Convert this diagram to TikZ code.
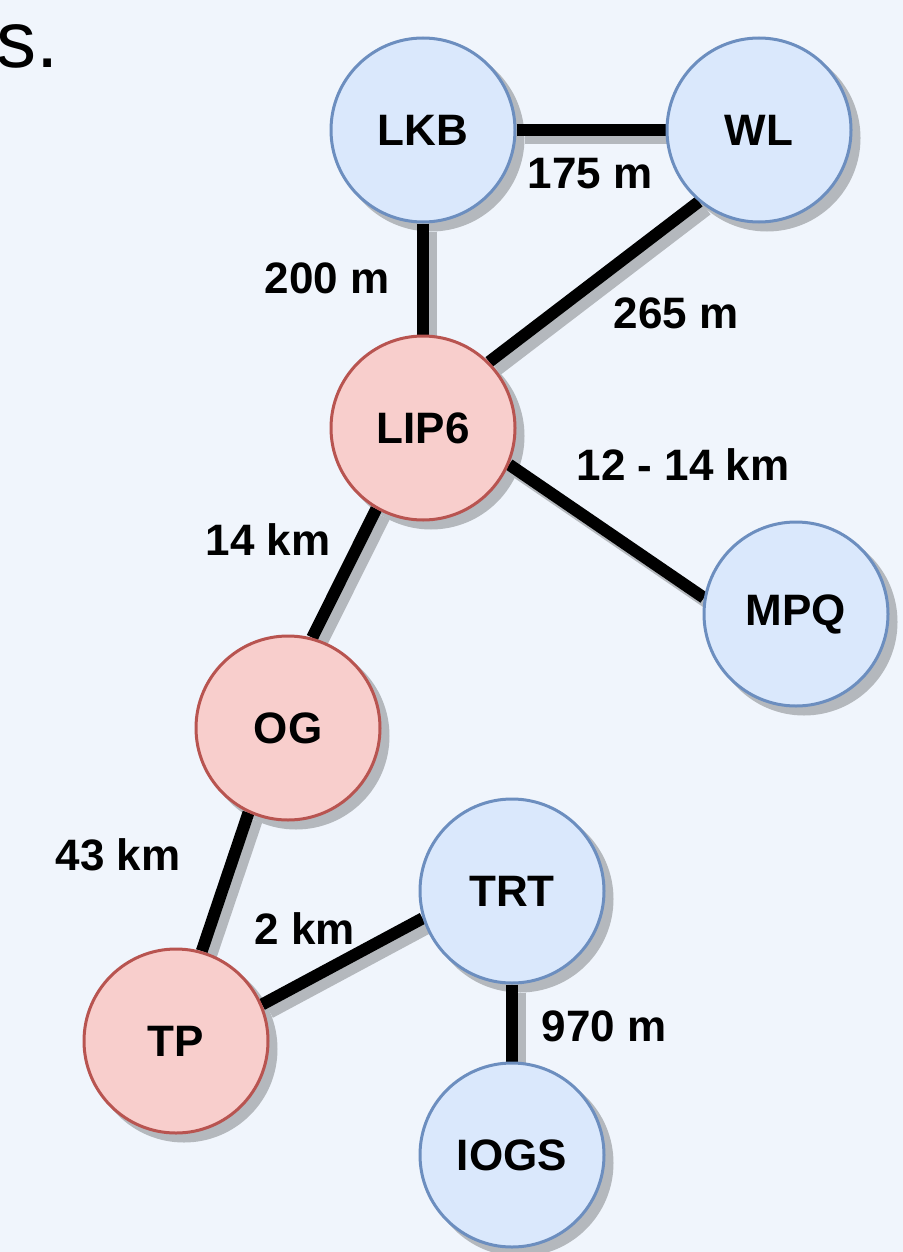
\documentclass[tikz,border=0pt]{standalone}
\usepackage{fontspec}
\setmainfont{Liberation Sans}
\usetikzlibrary{positioning}

\definecolor{pagebg}{HTML}{F0F5FC}
\definecolor{bluefill}{HTML}{DAE8FC}
\definecolor{blueline}{HTML}{6C8EBF}
\definecolor{redfill}{HTML}{F8CECC}
\definecolor{redline}{HTML}{B85450}
\definecolor{shadowgray}{HTML}{B4B8BD}

\pgfdeclarelayer{shadows}
\pgfdeclarelayer{links}
\pgfsetlayers{shadows,links,main}

\tikzset{
  site/.style={circle, minimum size=92pt, inner sep=0pt, line width=1.5pt,
    font=\fontsize{22}{24}\selectfont\bfseries},
  labsite/.style={site, fill=bluefill, draw=blueline},
  netsite/.style={site, fill=redfill, draw=redline},
  dist/.style={font=\fontsize{22}{24}\selectfont\bfseries, inner sep=0pt},
  link/.style={line width=6pt, black},
  linkshadow/.style={line width=6pt, shadowgray},
  shadowshift/.style={shift={(8,8)}}
}

% node with its shadow on the shadow layer
\newcommand{\site}[4]{%
  \node[#1] (#2) at (#3) {#4};
  \begin{pgfonlayer}{shadows}
    \fill[shadowgray] ([shadowshift]#2.center) circle (46.75pt);
  \end{pgfonlayer}}

% fibre link with its shadow
\newcommand{\sitelink}[2]{%
  \begin{pgfonlayer}{shadows}
    \draw[linkshadow] ([shadowshift]#1) -- ([shadowshift]#2);
  \end{pgfonlayer}
  \begin{pgfonlayer}{links}
    \draw[link] (#1) -- (#2);
  \end{pgfonlayer}}

\begin{document}
\begin{tikzpicture}[x=0.5pt, y=-0.5pt]
  \begin{pgfonlayer}{shadows}
    \fill[pagebg] (0,0) rectangle (903,1252);
  \end{pgfonlayer}
  \useasboundingbox (0,0) rectangle (903,1252);
  \clip (0,0) rectangle (903,1252);

  \node[font=\fontsize{40}{44}\selectfont, inner sep=0pt, anchor=base west] (cut) at (-4,68) {s.};

  % sites
  \site{labsite}{LKB}{423,130}{LKB}
  \site{labsite}{WL}{759,130}{WL}
  \site{netsite}{LIP6}{423,428}{LIP6}
  \site{labsite}{MPQ}{796,614}{MPQ}
  \site{netsite}{OG}{288,728}{OG}
  \site{labsite}{TRT}{512,891}{TRT}
  \site{netsite}{TP}{176,1041}{TP}
  \site{labsite}{IOGS}{512,1155}{IOGS}

  % links
  \sitelink{LKB.east}{WL.west}
  \sitelink{LKB.south}{LIP6.north}
  \sitelink{WL.-130}{LIP6.45}
  \sitelink{LIP6.-23}{MPQ.170}
  \sitelink{LIP6.-120}{OG.75}
  \sitelink{OG.-115}{TP.74}
  \sitelink{TP.23}{TRT.-163}
  \sitelink{TRT.south}{IOGS.north}

  % distances
  \node[dist] (d175) at (590,174) {175 m};
  \node[dist] (d200) at (327,278) {200 m};
  \node[dist] (d265) at (676,313) {265 m};
  \node[dist] (d1214) at (683,465) {12 - 14 km};
  \node[dist] (d14) at (268,540) {14 km};
  \node[dist] (d43) at (118,855) {43 km};
  \node[dist] (d2) at (305,929) {2 km};
  \node[dist] (d970) at (604,1026) {970 m};
\end{tikzpicture}
\end{document}
